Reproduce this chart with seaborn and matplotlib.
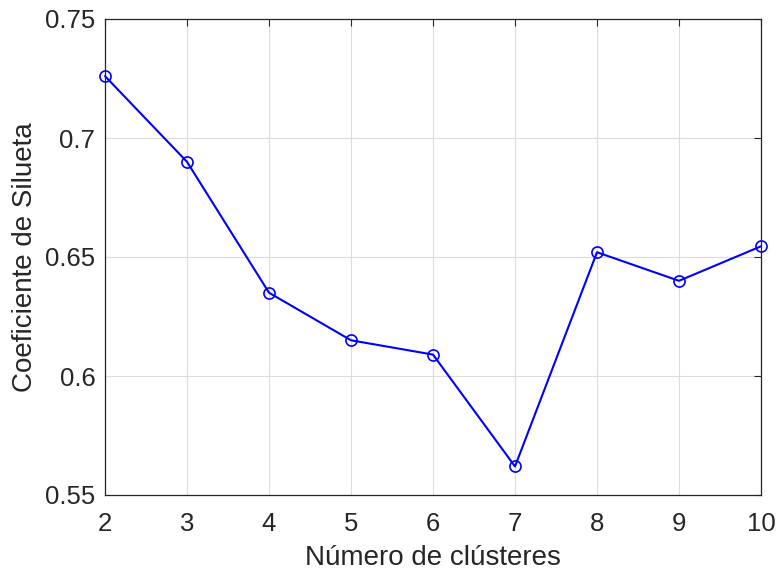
import matplotlib
matplotlib.use("Agg")
import matplotlib.pyplot as plt
import seaborn as sns
import pandas as pd

# Silhouette coefficient per number of clusters
n_clusters = [2, 3, 4, 5, 6, 7, 8, 9, 10]
silhouette = [0.726, 0.690, 0.635, 0.615, 0.609, 0.562, 0.652, 0.640, 0.6545]
y_ticks = [0.55, 0.60, 0.65, 0.70, 0.75]
y_tick_labels = ["0.55", "0.6", "0.65", "0.7", "0.75"]

df = pd.DataFrame({"k": n_clusters, "s": silhouette})

sns.set_style("white")
plt.rcParams["font.family"] = ["Liberation Sans", "DejaVu Sans"]

axis_color = "#262626"
fig = plt.figure(figsize=(7.77, 5.77), dpi=100)
ax = fig.add_axes([105 / 777, 1 - 495 / 577, (761 - 105) / 777, (495 - 19) / 577])

sns.lineplot(data=df, x="k", y="s", ax=ax, color="#0000ff", linewidth=1.5,
             marker="o", markersize=8, markerfacecolor="none",
             markeredgecolor="#0000ff", markeredgewidth=1.2, clip_on=False)

ax.set_xlim(2, 10)
ax.set_ylim(0.55, 0.75)
ax.set_xticks(n_clusters)
ax.set_yticks(y_ticks)
ax.set_yticklabels(y_tick_labels)

ax.grid(True, color="#dcdcdc", linewidth=0.8)
ax.set_axisbelow(True)
for s in ax.spines.values():
    s.set_visible(True)
    s.set_color(axis_color)
    s.set_linewidth(0.9)

ax.tick_params(direction="in", length=5, width=0.8, color=axis_color,
               labelcolor=axis_color, labelsize=18.5, top=True, right=True)
ax.tick_params(axis="x", pad=12)
ax.tick_params(axis="y", pad=7)
ax.set_xlabel("Número de clústeres", fontsize=20, color=axis_color, labelpad=7)
ax.set_ylabel("Coeficiente de Silueta", fontsize=20, color=axis_color, labelpad=5)

fig.savefig("out.png", dpi=100)
